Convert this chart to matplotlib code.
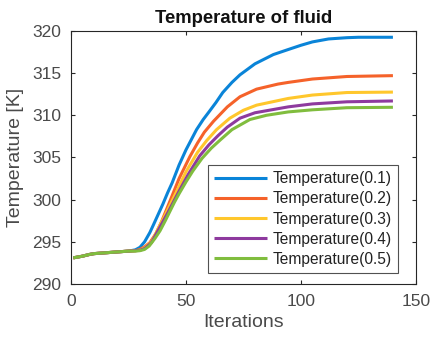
import matplotlib
matplotlib.use("Agg")
import matplotlib.pyplot as plt

plt.rcParams['font.family'] = ['Liberation Sans', 'DejaVu Sans']

labels = ["Temperature(0.1)", "Temperature(0.2)", "Temperature(0.3)",
          "Temperature(0.4)", "Temperature(0.5)"]
colors = ["#0A84D8", "#F5622A", "#FFC72C", "#8E3A9E", "#80BD3E"]

x_common = [1, 3, 5, 8, 10, 15, 20, 25]
y_common = [293.1, 293.2, 293.3, 293.5, 293.6, 293.7, 293.8, 293.9]

x1 = x_common + [28, 30, 32, 34.3, 36, 38, 40, 42, 44, 47, 50, 54.6, 57.5, 60, 63, 66, 70, 73.5, 80, 88, 94.5, 100, 105, 112, 120, 125, 130, 140]
y1 = y_common + [294.05, 294.35, 295.0, 296.1, 297.1, 298.3, 299.5, 300.8, 302.0, 304.1, 305.9, 308.3, 309.5, 310.4, 311.5, 312.7, 313.9, 314.8, 316.1, 317.2, 317.8, 318.3, 318.7, 319.05, 319.2, 319.25, 319.25, 319.25]

x2 = x_common + [28, 30, 32, 34.3, 37, 39.4, 43, 47, 51.7, 55, 58, 62, 68, 73.5, 80.7, 90, 94.5, 105, 120, 140]
y2 = y_common + [293.95, 294.1, 294.4, 294.9, 296.0, 297.4, 299.8, 302.5, 305.1, 306.7, 308.0, 309.3, 311.0, 312.2, 313.1, 313.7, 313.9, 314.3, 314.6, 314.7]

x3 = x_common + [28, 30, 32, 35, 38, 41, 46, 50, 55, 59, 63.3, 69.1, 75, 80.7, 94.5, 105, 120, 140]
y3 = y_common + [293.95, 294.0, 294.3, 295.0, 296.6, 298.2, 301.0, 303.3, 305.6, 307.0, 308.3, 309.66, 310.6, 311.2, 312.0, 312.4, 312.7, 312.75]

x4 = x_common + [28, 30, 32, 35, 38, 42, 47, 51, 56, 60, 64, 68, 73.5, 80, 94.5, 105, 120, 140]
y4 = y_common + [293.95, 294.0, 294.2, 294.9, 296.4, 298.4, 301.0, 303.0, 305.2, 306.5, 307.6, 308.6, 309.66, 310.3, 311.0, 311.35, 311.6, 311.7]

x5 = x_common + [28, 30, 32, 34, 36.5, 38.7, 41, 43, 45, 47, 50, 53, 57, 61, 65, 70, 77.8, 85, 94.5, 105, 120, 140]
y5 = y_common + [293.9, 293.95, 294.1, 294.5, 295.4, 296.3, 297.5, 298.6, 299.7, 300.7, 302.1, 303.4, 304.9, 306.1, 307.1, 308.3, 309.5, 310.0, 310.4, 310.65, 310.9, 310.95]

series = [(x1, y1), (x2, y2), (x3, y3), (x4, y4), (x5, y5)]

fig = plt.figure(figsize=(4.31, 3.40), dpi=100)
ax = fig.add_axes([0.1647, 0.1647, 0.8003, 0.7443])

for (xs, ys), c, lab in zip(series, colors, labels):
    ax.plot(xs, ys, color=c, lw=2.2, label=lab, solid_capstyle='butt', solid_joinstyle='round')

ax.set_xlim(0, 150)
ax.set_ylim(290, 320)
ax.set_xticks([0, 50, 100, 150])
ax.set_yticks([290, 295, 300, 305, 310, 315, 320])

axcol = '#262626'
for s in ax.spines.values():
    s.set_color(axcol)
    s.set_linewidth(0.8)
ax.tick_params(direction='in', top=True, right=True, length=3, width=0.8,
               colors=axcol, labelcolor='#4a4a4a', labelsize=12.5, pad=7)

ax.set_title("Temperature of fluid", fontsize=13.3, fontweight='bold', color='#111111', pad=6)
ax.set_xlabel("Iterations", fontsize=14, color='#4a4a4a', labelpad=4)
ax.set_ylabel("Temperature [K]", fontsize=14, color='#4a4a4a', labelpad=6)

leg = ax.legend(loc='lower right', bbox_to_anchor=(0.948, 0.0435), fontsize=11.2,
                frameon=True, fancybox=False, handlelength=3.4, handletextpad=0.35,
                labelspacing=0.33, borderpad=0.4, borderaxespad=0.0)
leg.get_frame().set_edgecolor('#262626')
leg.get_frame().set_linewidth(0.8)
for t in leg.get_texts():
    t.set_color('#222222')

fig.savefig("out.png", dpi=100)
